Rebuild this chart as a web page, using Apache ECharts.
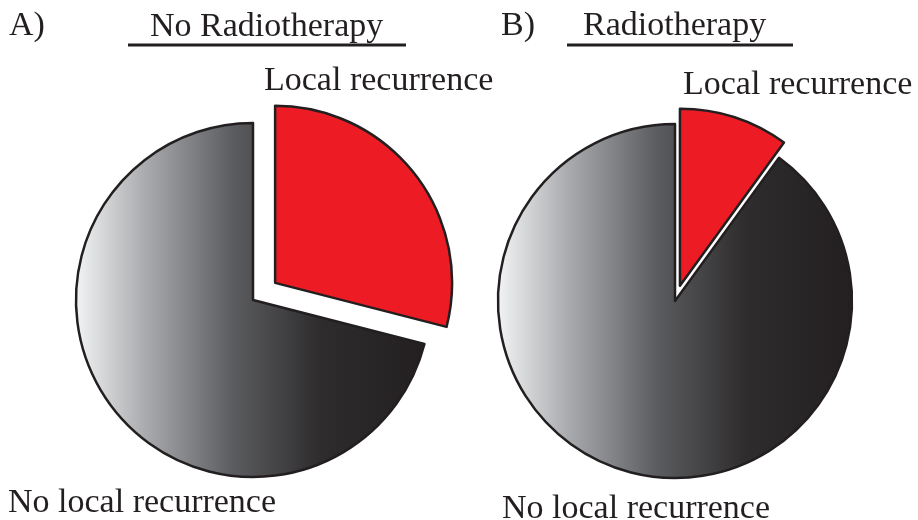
<!DOCTYPE html>
<html>
<head>
<meta charset="utf-8">
<script src="https://cdn.jsdelivr.net/npm/echarts@6/dist/echarts.min.js"></script>
<style>
html,body{margin:0;padding:0;background:#fff;}
#chart{width:918px;height:520px;}
</style>
</head>
<body>
<div id="chart"></div>
<script>
// ---- data ----
var categories = ['Local recurrence', 'No local recurrence'];
var noRadiotherapyValues = [29, 71];
var radiotherapyValues = [10, 90];
var panelLetters = ['A)', 'B)'];
var panelTitles = ['No Radiotherapy', 'Radiotherapy'];

var FONT = '"Liberation Serif", "Times New Roman", serif';
var TXT = '#231f20';

var greyGradient = {
  type: 'linear', x: 0, y: 0, x2: 1, y2: 0,
  colorStops: [
    { offset: 0, color: '#f3f4f5' },
    { offset: 0.2, color: '#a9abae' },
    { offset: 0.45, color: '#5b5c5f' },
    { offset: 0.7, color: '#2e2c2d' },
    { offset: 1, color: '#231f20' }
  ]
};

function buildData(values) {
  return categories.map(function (c, i) {
    return {
      name: c,
      value: values[i],
      selected: i === 0,
      itemStyle: { color: i === 0 ? '#ed1c24' : greyGradient }
    };
  });
}

function pieSeries(values, center, offset) {
  return {
    type: 'pie',
    center: center,
    radius: 177,
    startAngle: 90,
    clockwise: true,
    selectedMode: 'single',
    selectedOffset: offset,
    avoidLabelOverlap: false,
    label: { show: false },
    labelLine: { show: false },
    emphasis: { disabled: true },
    itemStyle: { borderColor: '#231f20', borderWidth: 2.5 },
    data: buildData(values)
  };
}

function txt(text, x, baseline) {
  return {
    type: 'text',
    x: x,
    y: baseline - 9,
    style: {
      text: text,
      font: '34px ' + FONT,
      fill: TXT,
      textAlign: 'left',
      verticalAlign: 'middle'
    }
  };
}

function uline(x1, x2, y) {
  return {
    type: 'line',
    shape: { x1: x1, y1: y, x2: x2, y2: y },
    style: { stroke: TXT, lineWidth: 3 }
  };
}

var chart = echarts.init(document.getElementById('chart'), null, { renderer: 'canvas' });
chart.setOption({
  animation: false,
  backgroundColor: '#ffffff',
  series: [
    pieSeries(noRadiotherapyValues, [253, 300], 28),
    pieSeries(radiotherapyValues, [675, 301], 16)
  ],
  graphic: [
    txt(panelLetters[0], 9, 35),
    txt(panelTitles[0], 150, 36),
    uline(128, 406, 45),
    txt(panelLetters[1], 501, 35),
    txt(panelTitles[1], 583, 35),
    uline(567, 793, 45),
    txt(categories[0], 264, 90),
    txt(categories[0], 683, 94),
    txt(categories[1], 8, 512),
    txt(categories[1], 502, 518)
  ]
});
</script>
</body>
</html>
